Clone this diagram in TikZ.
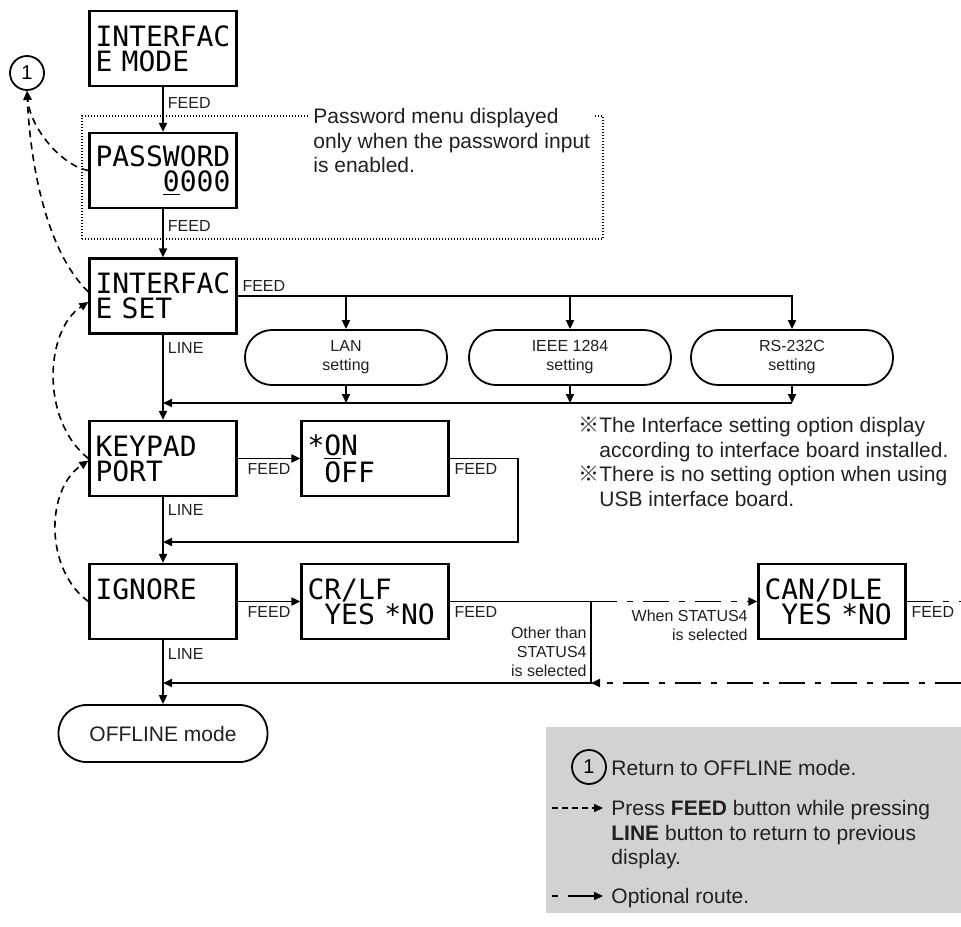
\documentclass[tikz,border=0pt]{standalone}
\usepackage{fontspec}
\setmainfont{Liberation Sans}
\newfontfamily\lcdfont{DejaVu Sans Mono}
\newfontfamily\cjkfont{Noto Sans CJK JP}
\usetikzlibrary{arrows.meta, positioning, calc}

\definecolor{txtgray}{RGB}{35,31,32}
\definecolor{legendgray}{RGB}{209,210,212}

\begin{document}
\begin{tikzpicture}[
    x=0.5pt, y=-0.5pt,
    font=\fontsize{8}{9.5}\selectfont,
    lcd/.style={draw, line width=1.1pt, minimum width=73.5pt, minimum height=37.5pt, inner sep=0pt,
      align=left, text width=67.5pt, font=\lcdfont\fontsize{14}{12.5}\selectfont},
    term/.style={draw, line width=0.9pt, rounded corners=13.5pt, minimum width=101pt, minimum height=27.5pt,
      align=center, text=txtgray},
    lbl/.style={text=txtgray, inner sep=2pt},
    flow/.style={line width=0.9pt, -{Triangle[length=4.5pt,width=4pt]}},
    solidline/.style={line width=0.9pt},
    backlink/.style={line width=0.8pt, dash pattern=on 3.5pt off 2.5pt, -{Triangle[length=4.5pt,width=4pt]}},
    dashdot/.style={line width=0.9pt, dash pattern=on 13pt off 5pt on 3pt off 5pt},
    notetext/.style={text=txtgray, align=left, inner sep=0pt, font=\fontsize{10.5}{12.25}\selectfont},
    numcircle/.style={draw, circle, line width=0.9pt, minimum size=17pt, inner sep=0pt, font=\fontsize{10}{10}\selectfont}
]
  \useasboundingbox (0,0) rectangle (961,926);

  % password area
  \node[draw, line width=0.6pt, dash pattern=on 0.5pt off 1pt, minimum width=260.5pt, minimum height=61.5pt] (pwarea) at (342.5,177.5) {};
  \node[notetext, fill=white, inner xsep=2pt, anchor=north west] (pwnote) at (309,108) {Password menu displayed\\only when the password input\\is enabled.};

  % main column
  \node[lcd] (mode) at (163,48.5) {INTERFAC\\E MODE};
  \node[lcd] (pass) at (163,170.5) {PASSWORD\\\phantom{PASS}\underline{0}000};
  \node[lcd] (ifset) at (163,296) {INTERFAC\\E SET};
  \node[lcd] (keypad) at (163,458.5) {KEYPAD\\PORT};
  \node[lcd] (ignore) at (163,601.5) {IGNORE\\\mbox{}};
  \node[term, minimum width=104.5pt, minimum height=28.5pt, rounded corners=14pt, font=\fontsize{10.5}{12}\selectfont] (offline) at (163,733.5) {OFFLINE mode};
  \node[numcircle] (one) at (27,73) {1};

  % side displays
  \node[lcd] (onoff) at (375,458.5) {*\underline{O}N\\\phantom{*}OFF};
  \node[lcd] (crlf) at (375,601.5) {CR/LF\\\phantom{*}YES *NO};
  \node[lcd] (candle) at (832,601.5) {CAN/DLE\\\phantom{*}YES *NO};

  % interface boards
  \node[term] (lan) at (346,357.5) {LAN\\setting};
  \node[term] (ieee) at (570,357.5) {IEEE 1284\\setting};
  \node[term] (rs) at (792,357.5) {RS-232C\\setting};

  \coordinate (join1) at (163,403);
  \coordinate (join2) at (163,542);
  \coordinate (join3) at (163,683);
  \coordinate (split) at (591,601.5);
  \coordinate (edgeA) at (961,601.5);
  \coordinate (edgeB) at (961,683);

  % FEED / LINE flow
  \draw[flow] (mode) -- node[lbl, right, pos=0.35] {FEED} (pass);
  \draw[flow] (pass) -- node[lbl, right, pos=0.35] {FEED} (ifset);
  \draw[flow] (ifset) -- node[lbl, right, pos=0.16] {LINE} (keypad);
  \draw[flow] (keypad) -- node[lbl, right, pos=0.19] {LINE} (ignore);
  \draw[flow] (ignore) -- node[lbl, right, pos=0.21] {LINE} (offline);

  \draw[flow] (ifset.east) -| node[lbl, above right, pos=0] {FEED} (rs.north);
  \draw[flow] (lan.north |- ifset.east) -- (lan.north);
  \draw[flow] (ieee.north |- ifset.east) -- (ieee.north);
  \draw[flow] (lan.south) -- (lan.south |- join1);
  \draw[flow] (ieee.south) -- (ieee.south |- join1);
  \draw[flow] (rs.south) -- (rs.south |- join1);
  \draw[flow] (rs.south |- join1) -- (join1);

  \draw[flow] (keypad.east) -- node[lbl, below] {FEED} (onoff.west);
  \draw[flow] (onoff.east) -- node[lbl, below right, pos=0] {FEED} ++(68,0) |- (join2);

  \draw[flow] (ignore.east) -- node[lbl, below] {FEED} (crlf.west);
  \draw[solidline] (crlf.east) -- node[lbl, below right, pos=0] {FEED} (split);
  \draw[flow] (split) |- (join3);
  \draw[flow, dashdot] (split) -- (candle.west);
  \draw[dashdot] (candle.east) -- node[lbl, below right, pos=0] {FEED} (edgeA);
  \draw[flow, dashdot] (edgeB) -- (split |- join3);
  \node[lbl, inner sep=0pt, align=right, anchor=north east] (other4) at (587,626) {Other than\\STATUS4\\is selected};
  \node[lbl, inner sep=0pt, align=right, anchor=north east] (when4) at (748,609.5) {When STATUS4\\is selected};

  % back links (FEED + LINE)
  \draw[backlink] (pass.west) .. controls (62,166) and (30,128) .. (one.south);
  \draw[backlink] ([yshift=2pt]ifset.west) .. controls (45,250) and (30,160) .. (one.south);
  \draw[backlink] (keypad.west) .. controls (40,420) and (45,330) .. ([yshift=-3pt]ifset.west);
  \draw[backlink] (ignore.west) .. controls (45,570) and (45,490) .. ([yshift=-1pt]keypad.west);

  % notes
  \node[notetext, anchor=north west] (ifnote) at (578,417) {{\cjkfont ※}The Interface setting option display\\\phantom{\cjkfont ※}according to interface board installed.\\{\cjkfont ※}There is no setting option when using\\\phantom{\cjkfont ※}USB interface board.};

  % legend
  \node[fill=legendgray, minimum width=207.5pt, minimum height=93pt, inner sep=0pt, anchor=north west] (legend) at (546,727) {};
  \node[numcircle] (onekey) at (589,767) {1};
  \node[notetext, anchor=base west] (onetext) at (611,775) {Return to OFFLINE mode.};
  \coordinate (dashA) at (552,808);
  \coordinate (dashB) at (603,808);
  \draw[backlink, line width=0.7pt, dash pattern=on 3pt off 2pt] (dashA) -- (dashB);
  \node[notetext, anchor=north west] (dashtext) at (611,800) {Press \textbf{FEED} button while pressing\\\textbf{LINE} button to return to previous\\display.};
  \coordinate (optA) at (552,896);
  \coordinate (optB) at (603,896);
  \draw[flow, line width=0.7pt, dash pattern=on 3pt off 5pt on 20pt off 2pt] (optA) -- (optB);
  \node[notetext, anchor=base west] (opttext) at (611,903.5) {Optional route.};
\end{tikzpicture}
\end{document}
